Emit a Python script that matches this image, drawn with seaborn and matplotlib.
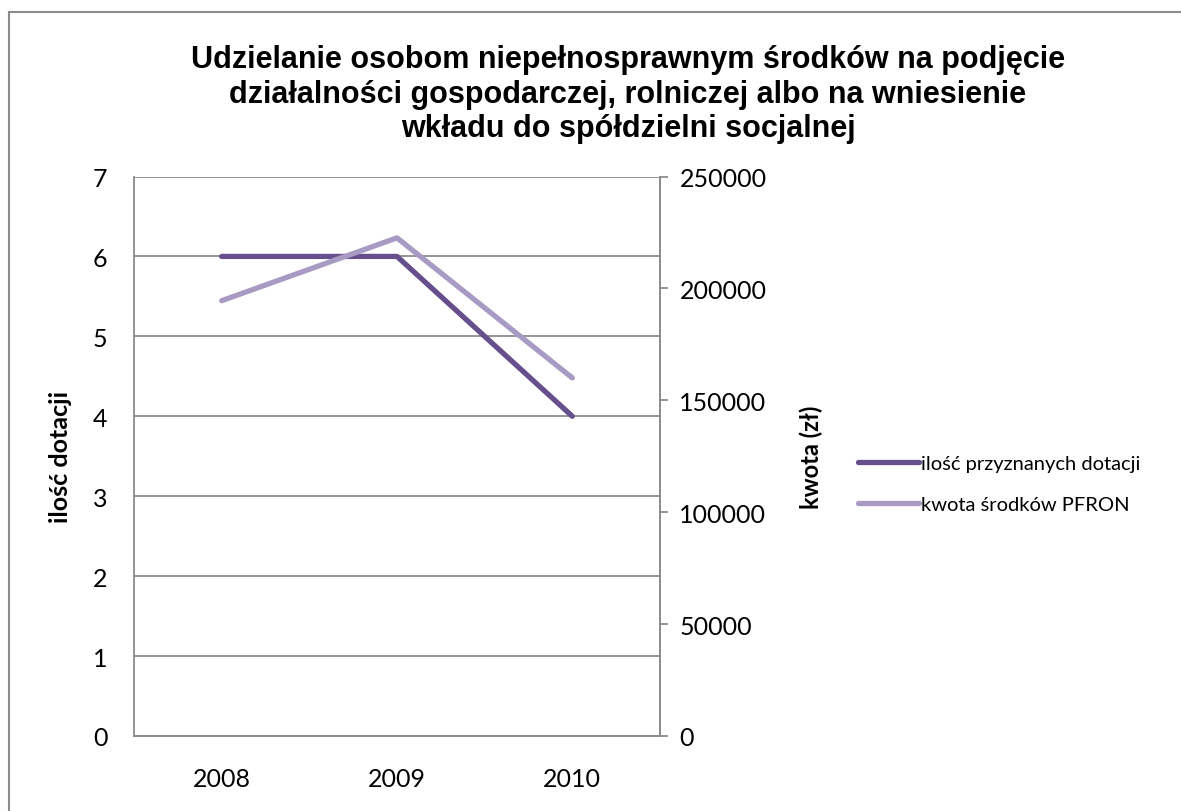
import pandas as pd
import matplotlib
matplotlib.use("Agg")
import matplotlib.pyplot as plt
from matplotlib.patches import Rectangle
import seaborn as sns

# data
years = ["2008", "2009", "2010"]
dotacje = [6, 6, 4]                     # ilość przyznanych dotacji (left axis)
kwota = [194500, 222600, 160000]        # kwota środków PFRON (right axis)

title = ("Udzielanie osobom niepełnosprawnym środków na podjęcie\n"
         "działalności gospodarczej, rolniczej albo na wniesienie\n"
         "wkładu do spółdzielni socjalnej")
dark = "#664F8C"
light = "#A79AC3"
grey = "#8C8C8C"

sns.set_theme(style="white")
plt.rcParams["font.family"] = ["Lato", "DejaVu Sans"]
plt.rcParams["text.color"] = "black"

df = pd.DataFrame({"rok": years, "dotacje": dotacje, "kwota": kwota})

fig = plt.figure(figsize=(11.81, 8.12), dpi=100)
ax = fig.add_axes([134/1181, 1-737/812, (660-134)/1181, (737-177.5)/812])
ax2 = ax.twinx()

sns.lineplot(data=df, x="rok", y="dotacje", ax=ax, color=dark, lw=3.8,
             label="ilość przyznanych dotacji", legend=False, solid_capstyle="round")
sns.lineplot(data=df, x="rok", y="kwota", ax=ax2, color=light, lw=3.8,
             label="kwota środków PFRON", legend=False, solid_capstyle="round")

ax.set_xlim(-0.5, 2.5)
ax.set_ylim(0, 7)
ax.set_yticks(range(0, 8))
ax2.set_ylim(0, 250000)
ax2.set_yticks(range(0, 250001, 50000))

# grid from the left axis only
ax.grid(axis="y", color=grey, lw=1.3)
ax.grid(axis="x", visible=False)
ax2.grid(False)
ax.set_axisbelow(True)

for a in (ax, ax2):
    a.spines["top"].set_visible(False)
    for s in ("left", "right", "bottom"):
        a.spines[s].set_color(grey)
        a.spines[s].set_linewidth(1.3)
ax2.spines["left"].set_visible(False)

ax.tick_params(axis="y", length=0, pad=19, labelsize=18, labelcolor="black")
ax.tick_params(axis="x", length=0, pad=22, labelsize=18, labelcolor="black")
ax2.tick_params(axis="y", length=6, width=1.3, color=grey, direction="out",
                pad=8, labelsize=18, labelcolor="black")

ax.set_xlabel("")
ax.set_ylabel("ilość dotacji", fontsize=18, fontweight="bold", color="black")
ax2.set_ylabel("kwota (zł)", fontsize=17, fontweight="bold", color="black")
ax.yaxis.set_label_coords(-0.118, 0.5)
ax2.yaxis.set_label_coords(1.265, 0.5)

fig.text(628/1181, 1-45/812, title, ha="center", va="top", fontsize=22,
         fontweight="bold", family=["Liberation Sans", "DejaVu Sans"],
         color="black", linespacing=1.2)

h1, l1 = ax.get_legend_handles_labels()
h2, l2 = ax2.get_legend_handles_labels()
leg = fig.legend(h1 + h2, l1 + l2, loc="center left",
                 bbox_to_anchor=(840/1181, 1-485/812), frameon=False, fontsize=14.5,
                 handlelength=3.0, handletextpad=0.1, labelspacing=1.2)
for t in leg.get_texts():
    t.set_color("black")

# outer chart frame
fig.patches.append(Rectangle((9/1181, -0.05), 1.2, 1.05-13/812, transform=fig.transFigure,
                             fill=False, edgecolor=grey, lw=1.5))

fig.savefig("out.png", dpi=100)
